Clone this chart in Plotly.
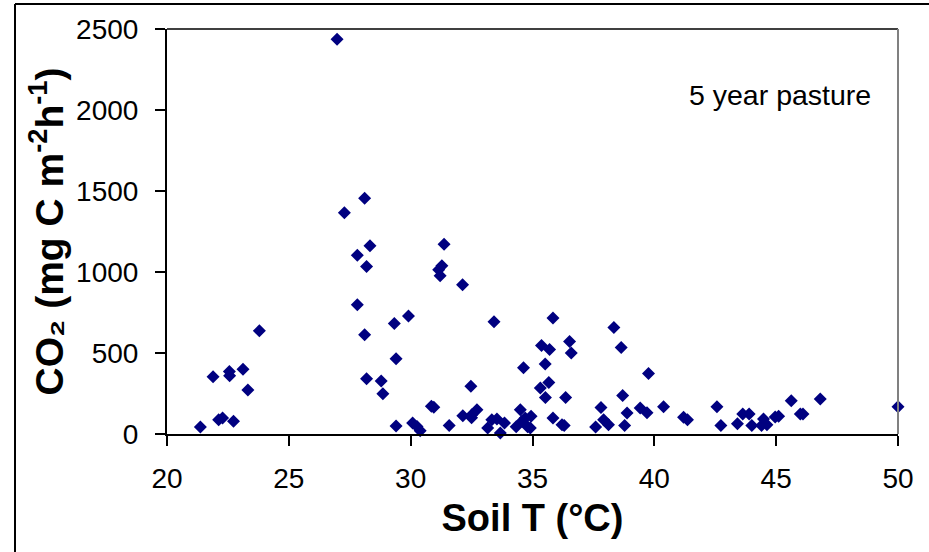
import plotly.graph_objects as go

soil_t = [21.37, 21.89, 22.12, 22.28, 22.56, 22.57, 22.73, 23.12, 23.32, 23.79,
          26.98, 27.28, 27.81, 28.11, 28.33, 28.19, 27.81, 29.33, 29.91, 28.11,
          29.40, 28.19, 28.79, 28.86, 29.40, 30.08, 30.26, 30.39, 30.85, 30.95,
          31.37, 31.28, 31.15, 31.21, 32.13, 31.58, 32.14, 32.51, 32.72, 32.50,
          32.47, 33.42, 33.16, 33.33, 33.54, 33.68, 33.85, 34.50, 34.33, 34.57,
          34.70, 34.94, 34.91, 34.80, 34.63, 35.84, 35.37, 35.70, 35.52, 35.32,
          35.67, 35.53, 35.84, 36.52, 36.59, 36.36, 36.21, 36.30, 37.81, 37.59,
          37.92, 38.12, 38.34, 38.64, 38.70, 38.88, 38.78, 39.76, 39.42, 39.70,
          40.38, 41.20, 41.36, 42.57, 42.73, 43.41, 43.63, 43.89, 44.00, 44.40,
          44.48, 44.62, 44.96, 45.10, 45.62, 45.99, 46.10, 46.81, 50.00]
co2 = [43, 354, 88, 99, 386, 360, 78, 399, 271, 637,
       2437, 1365, 1104, 1456, 1162, 1034, 798, 682, 728, 613,
       465, 341, 327, 249, 49, 68, 47, 20, 172, 165,
       1172, 1038, 1014, 977, 921, 53, 113, 119, 150, 100,
       294, 693, 37, 88, 92, 6, 68, 150, 45, 78,
       99, 109, 37, 45, 409, 716, 547, 522, 432, 284,
       318, 226, 99, 571, 500, 226, 57, 53, 164, 43,
       88, 57, 658, 534, 238, 129, 53, 374, 160, 131,
       168, 103, 88, 168, 53, 64, 123, 123, 53, 53,
       92, 57, 105, 110, 205, 123, 123, 216, 168]

x_ticks = [20, 25, 30, 35, 40, 45, 50]
y_ticks = [0, 500, 1000, 1500, 2000, 2500]

FONT = "Liberation Sans, Arial, sans-serif"

fig = go.Figure()
fig.add_trace(go.Scatter(
    x=soil_t, y=co2, mode="markers",
    marker=dict(symbol="diamond", size=10, color="#000080", line=dict(width=0)),
    showlegend=False, cliponaxis=False))

W, H = 929, 552
L, T = 167, 29
pw, ph = 731, 405
R = W - L - pw
B = H - T - ph

def px(xp):
    return (xp - L) / pw

def py(yp):
    return 1 - (yp - T) / ph

fig.update_layout(
    width=W, height=H,
    margin=dict(l=L, r=R, t=T, b=B, pad=0, autoexpand=False),
    paper_bgcolor="white", plot_bgcolor="white",
    font=dict(family=FONT, color="black"),
    xaxis=dict(range=[20, 50], tickvals=x_ticks, ticks="outside", ticklen=10,
               tickwidth=1.5, tickcolor="black", showline=True, linecolor="black",
               linewidth=2, showgrid=False, zeroline=False,
               tickfont=dict(size=28, family=FONT), ticklabelstandoff=8,
               title=dict(text="<b>Soil T (°C)</b>", font=dict(size=38, family=FONT), standoff=12)),
    yaxis=dict(range=[0, 2500], tickvals=y_ticks, ticks="outside", ticklen=10,
               tickwidth=1.5, tickcolor="black", showline=True, linecolor="black",
               linewidth=2, showgrid=False, zeroline=False,
               tickfont=dict(size=28, family=FONT), ticklabelstandoff=11,
               title=dict(text="<b>CO₂ (mg C m<sup>-2</sup>h<sup>-1</sup>)</b>",
                          font=dict(size=39, family=FONT), standoff=0)),
)

# plot area top and right border
fig.add_shape(type="line", xref="paper", yref="paper", x0=0, x1=1, y0=1, y1=1,
              line=dict(color="black", width=1.5))
fig.add_shape(type="line", xref="paper", yref="paper", x0=1, x1=1, y0=0, y1=1,
              line=dict(color="#808080", width=2))
# outer chart frame (left and top edges visible)
fig.add_shape(type="line", xref="paper", yref="paper", x0=px(15), x1=px(15), y0=py(570), y1=py(4),
              line=dict(color="black", width=2))
fig.add_shape(type="line", xref="paper", yref="paper", x0=px(15), x1=px(950), y0=py(4), y1=py(4),
              line=dict(color="black", width=2))

fig.add_annotation(text="5 year pasture", xref="paper", yref="paper",
                   x=px(873), y=py(95), xanchor="right", yanchor="middle",
                   showarrow=False, font=dict(size=28.5, family=FONT, color="black"))

fig.write_html("out.html", config={"displayModeBar": False},
               post_script="document.body.style.margin='0';document.body.style.overflow='hidden';")
